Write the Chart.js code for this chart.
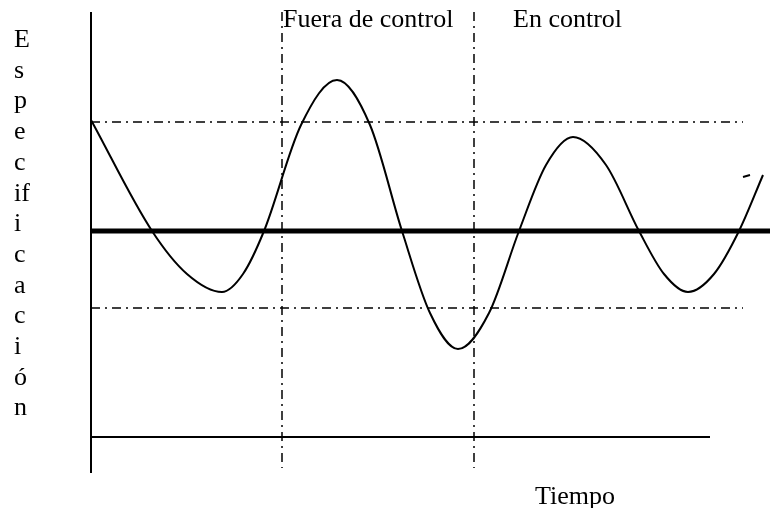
<!DOCTYPE html>
<html>
<head>
<meta charset="utf-8">
<script src="https://cdn.jsdelivr.net/npm/chart.js@4.4.1/dist/chart.umd.min.js"></script>
<style>
  html, body { margin: 0; padding: 0; background: #fff; }
  canvas { display: block; }
</style>
</head>
<body>
<canvas id="controlChart" width="770" height="508"></canvas>
<script>
// curve (time units, spec units; 0 = target line)
var timeX = [0, 6.1, 9.6, 13.1, 15.2, 17.3, 21.0, 24.6, 27.9, 31.1, 33.9, 36.7, 39.8, 42.8,
  45.5, 48.2, 51.5, 54.8, 57.3, 59.7, 62.3, 64.8, 67.2]
var specY = [11.1, 0, -4.3, -6.1, -4.3, 0, 10.6, 15.1, 10.6, 0, -8.2, -11.8, -8.2, 0,
  6.6, 9.4, 6.6, 0, -4.3, -6.1, -4.3, 0, 5.6]

var upperLimit = 10.9
var lowerLimit = -7.7
var targetLine = 0
var baseLine = -20.6
var limitEnd = 65.2
var baseEnd = 61.9
var regionBounds = [19.1, 38.3]
var axisTop = 21.9
var axisBottom = -24.2
var regionLabels = ['Fuera de control', 'En control']
var xTitle = 'Tiempo'
var yTitle = ['E', 's', 'p', 'e', 'c', 'if', 'i', 'c', 'a', 'c', 'i', 'ó', 'n']

var dashDot = [9, 5, 2, 5]

function seg(x0, y0, x1, y1, width, dash) {
  return {
    data: [{ x: x0, y: y0 }, { x: x1, y: y1 }],
    borderColor: '#000',
    borderWidth: width,
    borderDash: dash || [],
    pointRadius: 0,
    clip: false
  }
}

var curve = {
  data: timeX.map(function (x, i) { return { x: x, y: specY[i] } }),
  borderColor: '#000',
  borderWidth: 2,
  pointRadius: 0,
  cubicInterpolationMode: 'monotone',
  clip: false
}

var datasets = [
  seg(0, axisTop, 0, axisBottom, 2),
  seg(0, baseLine, baseEnd, baseLine, 2),
  seg(0, upperLimit, limitEnd, upperLimit, 1.5, dashDot),
  seg(0, lowerLimit, limitEnd, lowerLimit, 1.5, dashDot),
  seg(regionBounds[0], axisTop, regionBounds[0], axisBottom + 0.5, 1.5, dashDot),
  seg(regionBounds[1], axisTop, regionBounds[1], axisBottom + 0.5, 1.5, dashDot),
  seg(0, targetLine, 67.9, targetLine, 5),
  seg(65.2, 5.4, 65.9, 5.6, 2),
  curve
]

// text labels
var labelPlugin = {
  id: 'labels',
  afterDraw: function (chart) {
    var ctx = chart.ctx
    var xs = chart.scales.x
    ctx.save()
    ctx.fillStyle = '#000'
    ctx.font = '26px "Liberation Serif", "Times New Roman", serif'
    ctx.textBaseline = 'alphabetic'
    ctx.textAlign = 'left'
    ctx.fillText(regionLabels[0], xs.getPixelForValue(regionBounds[0]) + 1, 27)
    ctx.fillText(regionLabels[1], xs.getPixelForValue(regionBounds[1]) + 39, 27)
    ctx.fillText(xTitle, 535, 504)
    yTitle.forEach(function (ch, i) {
      ctx.fillText(ch, 14, 47 + i * 30.7)
    })
    ctx.restore()
  }
}

window.onload = function () {
  var canvas = document.getElementById('controlChart').getContext('2d')
  window.myChart = new Chart(canvas, {
    type: 'line',
    data: { datasets: datasets },
    options: {
      responsive: false,
      animation: false,
      layout: { padding: { left: 91, right: 0, top: 0, bottom: 0 } },
      plugins: {
        legend: { display: false },
        tooltip: { enabled: false }
      },
      scales: {
        x: { type: 'linear', min: 0, max: 67.9, display: false },
        y: { type: 'linear', min: -27.7, max: 23.1, display: false }
      }
    },
    plugins: [labelPlugin]
  })
}
</script>
</body>
</html>
